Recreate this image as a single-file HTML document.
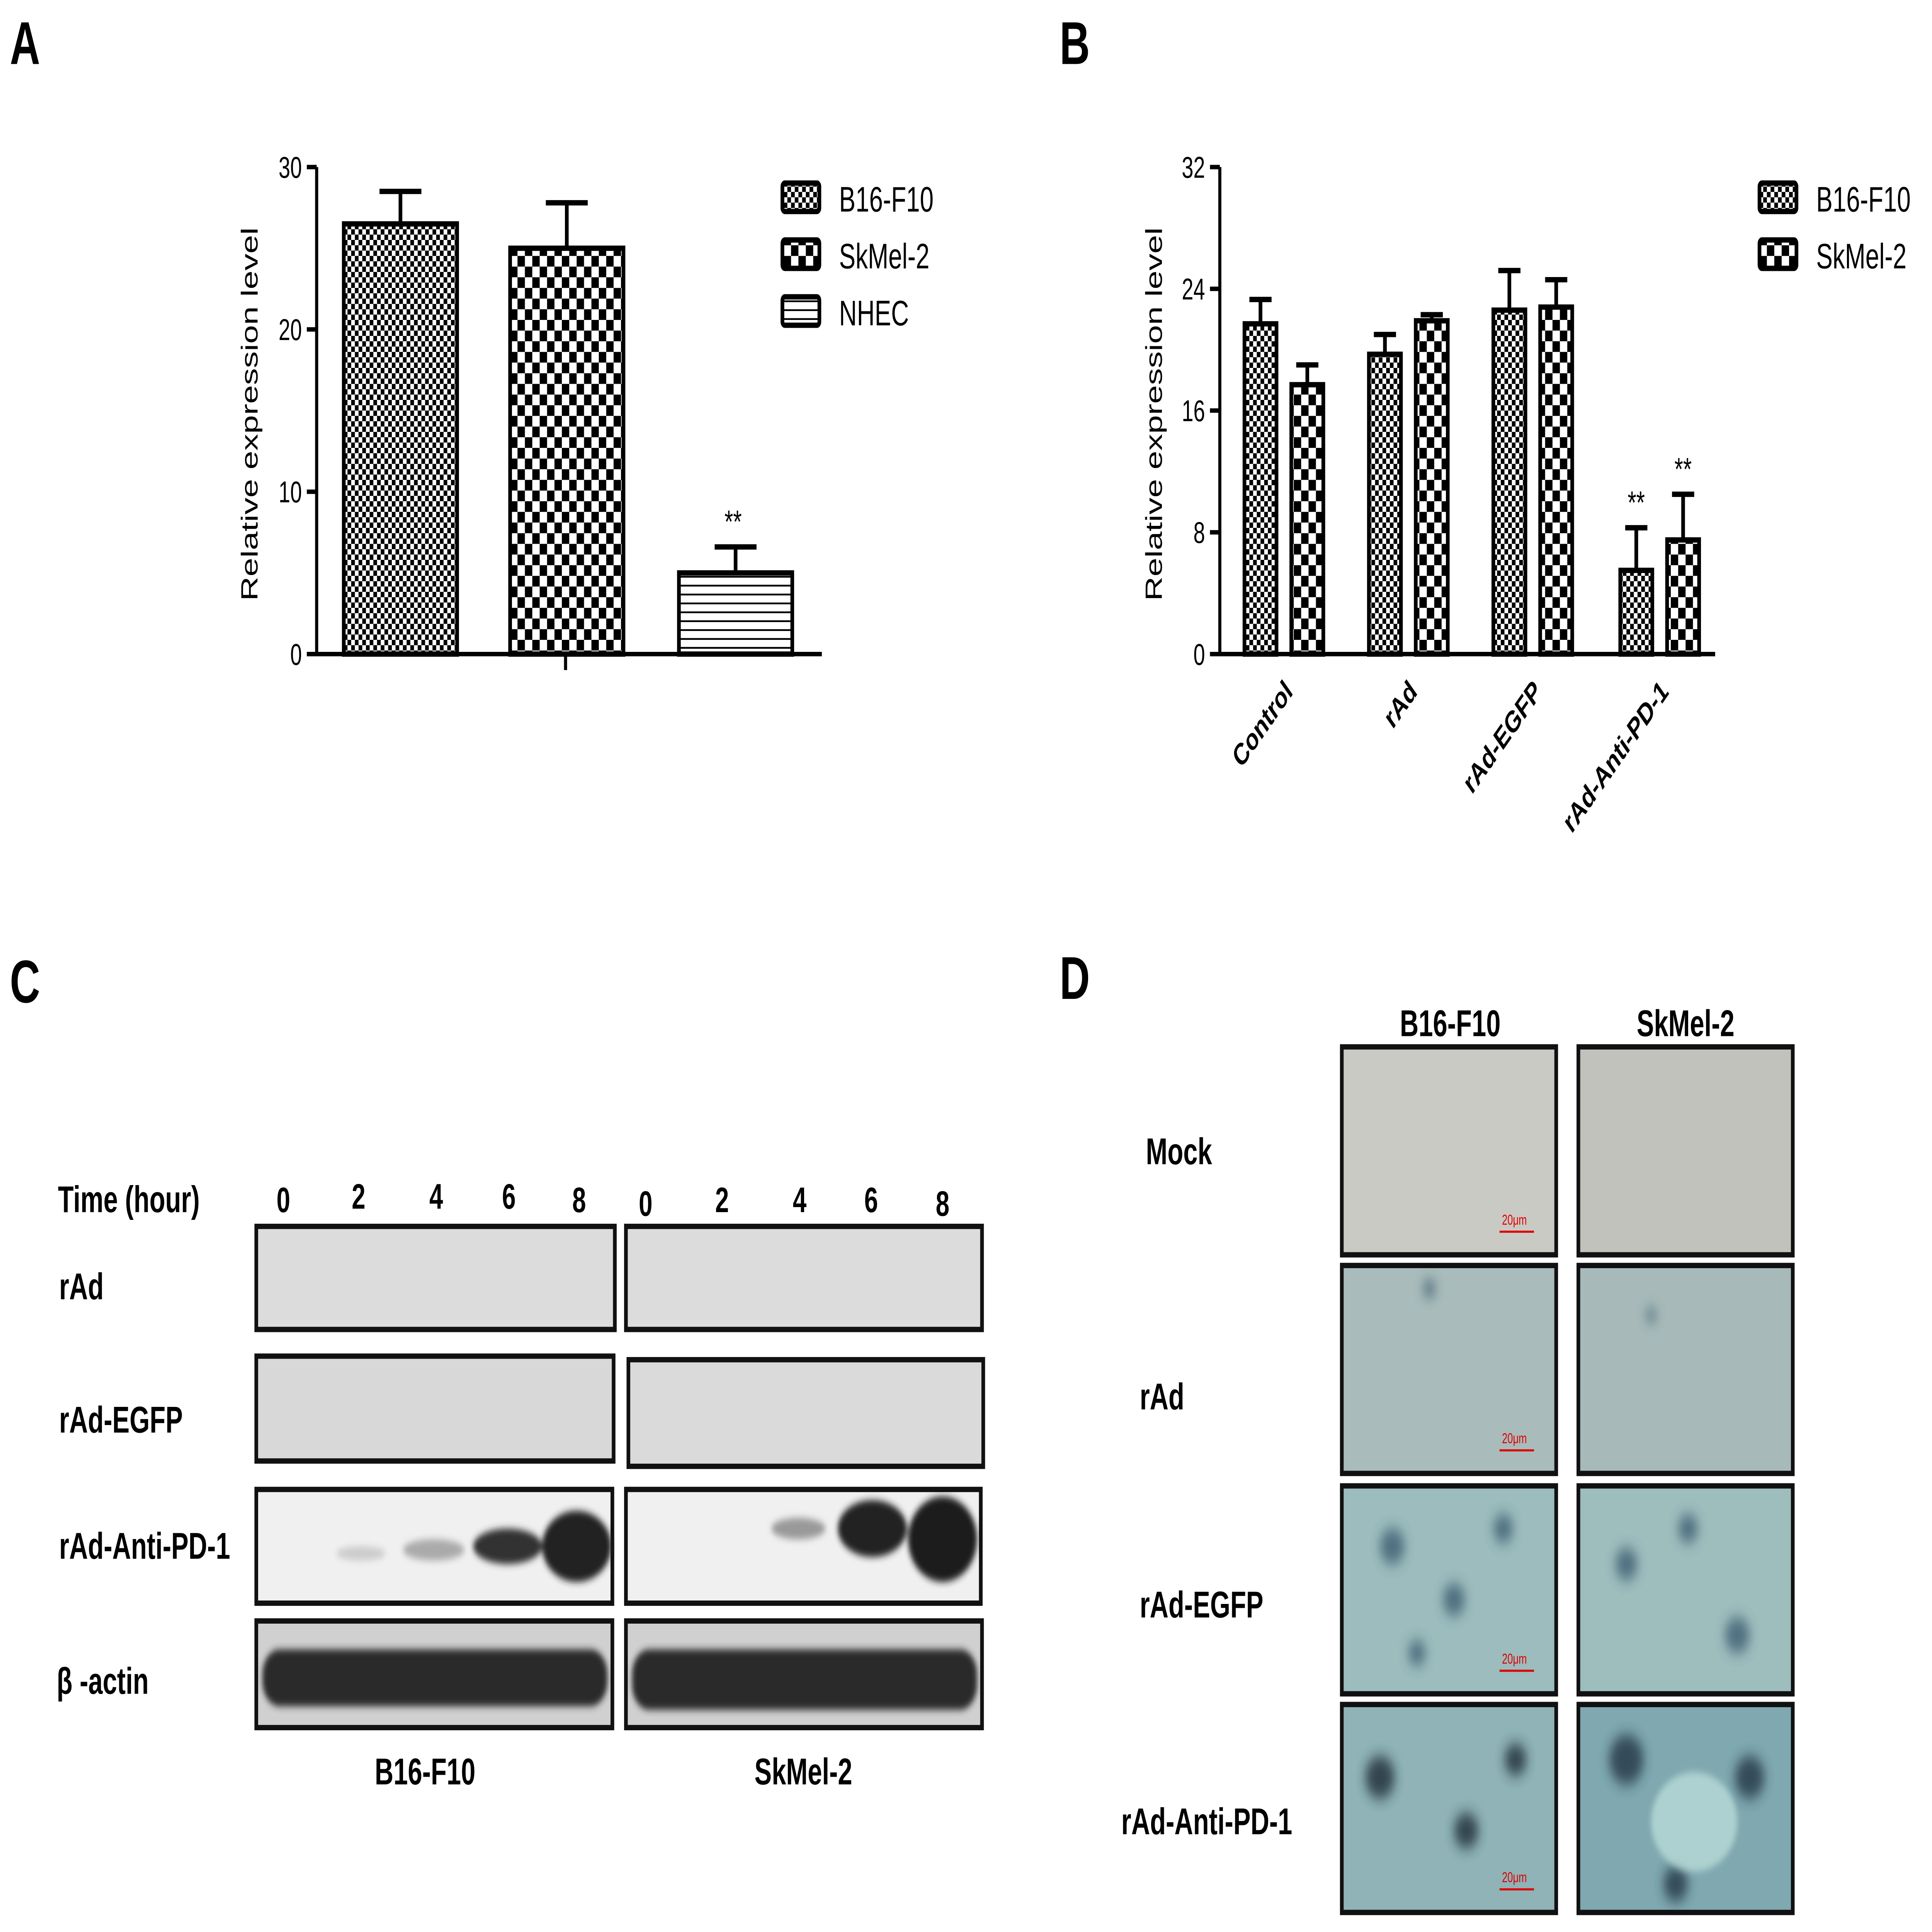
<!DOCTYPE html>
<html><head><meta charset="utf-8"><style>
html,body{margin:0;padding:0;background:#fff;width:100vw;height:100vh;overflow:hidden;}
#fig{display:block;width:100vw;height:100vh;}
text{font-family:"Liberation Sans",Arial,sans-serif;}
</style></head><body>
<svg id="fig" viewBox="0 0 1568 1087" preserveAspectRatio="none" xmlns="http://www.w3.org/2000/svg">
<defs>
<pattern id="pFine" width="6" height="6" patternUnits="userSpaceOnUse"><rect width="6" height="6" fill="#fff"/><rect width="3" height="3" fill="#000"/><rect x="3" y="3" width="3" height="3" fill="#000"/></pattern>
<pattern id="pCoarse" width="12" height="12" patternUnits="userSpaceOnUse"><rect width="12" height="12" fill="#fff"/><rect width="6" height="6" fill="#000"/><rect x="6" y="6" width="6" height="6" fill="#000"/></pattern>
<pattern id="pLines" width="8" height="5" patternUnits="userSpaceOnUse"><rect width="8" height="5" fill="#fff"/><rect y="4" width="8" height="1" fill="#000"/></pattern>
<filter id="blur2"><feGaussianBlur stdDeviation="2"/></filter>
<filter id="blur4"><feGaussianBlur stdDeviation="4"/></filter>
</defs>
<text x="8" y="36" font-size="34" font-weight="bold">A</text>
<text x="860" y="36" font-size="34" font-weight="bold">B</text>
<text x="8" y="564" font-size="34" font-weight="bold">C</text>
<text x="860" y="562" font-size="34" font-weight="bold">D</text>

<g id="chartA"></g>
<g id="chartB"></g>

<g font-weight="bold">
<text x="47" y="682" font-size="21">Time (hour)</text>
<g font-size="20" text-anchor="middle">
<text x="230" y="682">0</text><text x="291" y="680">2</text><text x="354" y="680">4</text><text x="413" y="680">6</text><text x="470" y="682">8</text>
<text x="524" y="684">0</text><text x="586" y="682">2</text><text x="649" y="682">4</text><text x="707" y="682">6</text><text x="765" y="684">8</text>
</g>
<g font-size="21">
<text x="48" y="731">rAd</text><text x="48" y="806">rAd-EGFP</text><text x="48" y="877">rAd-Anti-PD-1</text><text x="46" y="953">β -actin</text>
</g>
<g stroke="#111" stroke-width="3">
<rect x="208" y="690" width="291" height="58" fill="#dcdcdc"/>
<rect x="508" y="690" width="289" height="58" fill="#dcdcdc"/>
<rect x="208" y="763" width="290" height="59" fill="#d8d8d8"/>
<rect x="510" y="765" width="288" height="60" fill="#dadada"/>
<rect x="208" y="838" width="289" height="64" fill="#f0f0f0"/>
<rect x="508" y="838" width="288" height="64" fill="#f0f0f0"/>
<rect x="208" y="912" width="289" height="60" fill="#d0d0d0"/>
<rect x="508" y="912" width="289" height="60" fill="#d0d0d0"/>
</g>
<g filter="url(#blur2)">
<ellipse cx="293" cy="874" rx="20" ry="4" fill="#ccc"/>
<ellipse cx="352" cy="872" rx="25" ry="6" fill="#aaa"/>
<ellipse cx="412" cy="870" rx="28" ry="10" fill="#333"/>
<ellipse cx="468" cy="870" rx="28" ry="20" fill="#222"/>
<ellipse cx="648" cy="860" rx="22" ry="6" fill="#999"/>
<ellipse cx="708" cy="860" rx="28" ry="16" fill="#222"/>
<ellipse cx="765" cy="866" rx="28" ry="24" fill="#1a1a1a"/>
<rect x="213" y="928" width="280" height="32" rx="14" fill="#2a2a2a"/>
<rect x="513" y="928" width="280" height="34" rx="14" fill="#2a2a2a"/>
</g>
<text x="345" y="1004" font-size="21" text-anchor="middle">B16-F10</text>
<text x="652" y="1004" font-size="21" text-anchor="middle">SkMel-2</text>
</g>

<g font-weight="bold">
<text x="1177" y="583" font-size="21" text-anchor="middle">B16-F10</text>
<text x="1368" y="583" font-size="21" text-anchor="middle">SkMel-2</text>
<g font-size="21">
<text x="930" y="655">Mock</text><text x="925" y="793">rAd</text><text x="925" y="910">rAd-EGFP</text><text x="910" y="1032">rAd-Anti-PD-1</text>
</g>
<g stroke="#111" stroke-width="3">
<rect x="1089" y="589" width="174" height="117" fill="#cacac5"/>
<rect x="1281" y="589" width="174" height="117" fill="#c2c2bd"/>
<rect x="1089" y="712" width="174" height="117" fill="#a9bcbb"/>
<rect x="1281" y="712" width="174" height="117" fill="#a7bab9"/>
<rect x="1089" y="836" width="174" height="117" fill="#9cbcbd"/>
<rect x="1281" y="836" width="174" height="117" fill="#9ebdbd"/>
<rect x="1089" y="959" width="174" height="117" fill="#8fb3b7"/>
<rect x="1281" y="959" width="174" height="117" fill="#7fa8b0"/>
</g>
<g filter="url(#blur4)" fill="#3d5d72" opacity="0.8">
<circle cx="1130" cy="870" r="10"/><circle cx="1180" cy="900" r="9"/><circle cx="1220" cy="860" r="8"/><circle cx="1150" cy="930" r="7"/>
<circle cx="1320" cy="880" r="9"/><circle cx="1370" cy="860" r="8"/><circle cx="1410" cy="920" r="10"/>
<circle cx="1120" cy="1000" r="12" fill="#1a2a35"/><circle cx="1190" cy="1030" r="10" fill="#1a2a35"/><circle cx="1230" cy="990" r="9" fill="#1a2a35"/>
<circle cx="1320" cy="990" r="14" fill="#223644"/><circle cx="1420" cy="1000" r="12" fill="#223644"/><circle cx="1360" cy="1060" r="10" fill="#223644"/>
<circle cx="1160" cy="725" r="5"/><circle cx="1340" cy="740" r="4"/>
</g>
<ellipse cx="1375" cy="1025" rx="35" ry="28" fill="#b9dcd8" opacity="0.8" filter="url(#blur2)"/>
<g fill="none" stroke="#d00" stroke-width="1.2">
<line x1="1217" y1="693" x2="1245" y2="693"/><line x1="1217" y1="816" x2="1245" y2="816"/><line x1="1217" y1="940" x2="1245" y2="940"/><line x1="1217" y1="1063" x2="1245" y2="1063"/>
</g>
<g fill="#d00" font-size="8" font-weight="normal">
<text x="1219" y="689">20μm</text><text x="1219" y="812">20μm</text><text x="1219" y="936">20μm</text><text x="1219" y="1059">20μm</text>
</g>
</g>
</svg>
<script>
var NS="http://www.w3.org/2000/svg";
var aCategories=["B16-F10","SkMel-2","NHEC"];
var aValues=[26.5,25.0,5.0];
var aErrors=[2.0,2.8,1.6];
var aTicks=[0,10,20,30];
var bCategories=["Control","rAd","rAd-EGFP","rAd-Anti-PD-1"];
var bB16=[21.7,19.7,22.6,5.5];
var bB16Err=[1.6,1.3,2.6,2.8];
var bSk=[17.7,21.9,22.8,7.5];
var bSkErr=[1.3,0.4,1.8,3.0];
var bTicks=[0,8,16,24,32];

function mk(parent,tag,attrs,txt){var e=document.createElementNS(NS,tag);for(var k in attrs)e.setAttribute(k,attrs[k]);if(txt!==undefined)e.textContent=txt;parent.appendChild(e);return e;}

(function(){
var g=document.getElementById('chartA');
var y0=368,y1=94,ymax=30,xL=257,xR=667;
function ys(v){return y0-(y0-y1)*v/ymax;}
var fills=["url(#pFine)","url(#pCoarse)","url(#pLines)"];
var starts=[279,414,551],w=92;
aValues.forEach(function(v,i){
 var x=starts[i];
 var b=mk(g,'rect',{x:x,y:ys(v),width:w,height:y0-ys(v),fill:fills[i],stroke:'#000','stroke-width':3});
 
 
 var cx=x+w/2,t=ys(v+aErrors[i]);
 var e=mk(g,'path',{d:'M'+cx+' '+ys(v)+'V'+t+'M'+(cx-17)+' '+t+'H'+(cx+17),stroke:'#000','stroke-width':3,fill:'none'});
 
 
});
mk(g,'text',{x:595,y:ys(aValues[2]+aErrors[2])-8,'font-size':18,'text-anchor':'middle'},'**');
mk(g,'path',{d:'M'+xL+' '+y1+'V'+y0+'H'+xR+'M459 '+y0+'v9',stroke:'#000','stroke-width':2.5,fill:'none'});
aTicks.forEach(function(t){
 mk(g,'line',{x1:xL-8,x2:xL,y1:ys(t),y2:ys(t),stroke:'#000','stroke-width':2.5});
 var tl=mk(g,'text',{x:xL-12,y:ys(t)+6,'font-size':17,'text-anchor':'end'},String(t));
 
 
});
var yt=mk(g,'text',{x:0,y:0,'font-size':19,'text-anchor':'middle',transform:'translate(209,233) rotate(-90)'},'Relative expression level');


aCategories.forEach(function(c,i){
 var yy=103+i*32;
 mk(g,'rect',{x:635,y:yy,width:30,height:16,rx:2,fill:fills[i],stroke:'#000','stroke-width':3});
 var lt=mk(g,'text',{x:681,y:yy+16,'font-size':20},c);
 
 
});
})();

(function(){
var g=document.getElementById('chartB');
var y0=368,y1=94,ymax=32,xL=990,xR=1392;
function ys(v){return y0-(y0-y1)*v/ymax;}
var groupX=[1010,1111,1212,1315],w=26,gap=38;
function bar(x,v,err,fill,name){
 var b=mk(g,'rect',{x:x,y:ys(v),width:w,height:y0-ys(v),fill:fill,stroke:'#000','stroke-width':3});
 
 
 var cx=x+w/2,t=ys(v+err);
 var e=mk(g,'path',{d:'M'+cx+' '+ys(v)+'V'+t+'M'+(cx-9)+' '+t+'H'+(cx+9),stroke:'#000','stroke-width':3,fill:'none'});
 
 
}
bCategories.forEach(function(c,i){
 bar(groupX[i],bB16[i],bB16Err[i],'url(#pFine)','bar-b16-'+i);
 bar(groupX[i]+gap,bSk[i],bSkErr[i],'url(#pCoarse)','bar-skmel-'+i);
 var lx=groupX[i]+w+6;
 var tl=mk(g,'text',{x:0,y:0,'font-size':17,'font-weight':'bold','text-anchor':'end',transform:'translate('+(lx+8)+',390) rotate(-45)'},c);
 
 
});
mk(g,'text',{x:groupX[3]+w/2,y:ys(bB16[3]+bB16Err[3])-8,'font-size':18,'text-anchor':'middle'},'**');
mk(g,'text',{x:groupX[3]+gap+w/2,y:ys(bSk[3]+bSkErr[3])-8,'font-size':18,'text-anchor':'middle'},'**');
mk(g,'path',{d:'M'+xL+' '+y1+'V'+y0+'H'+xR,stroke:'#000','stroke-width':2.5,fill:'none'});
bTicks.forEach(function(t){
 mk(g,'line',{x1:xL-8,x2:xL,y1:ys(t),y2:ys(t),stroke:'#000','stroke-width':2.5});
 var tl=mk(g,'text',{x:xL-12,y:ys(t)+6,'font-size':17,'text-anchor':'end'},String(t));
 
 
});
var yt=mk(g,'text',{x:0,y:0,'font-size':19,'text-anchor':'middle',transform:'translate(943,233) rotate(-90)'},'Relative expression level');


['B16-F10','SkMel-2'].forEach(function(c,i){
 var yy=103+i*32;
 mk(g,'rect',{x:1428,y:yy,width:30,height:16,rx:2,fill:i?'url(#pCoarse)':'url(#pFine)',stroke:'#000','stroke-width':3});
 var lt=mk(g,'text',{x:1474,y:yy+16,'font-size':20},c);
 
 
});
})();
</script>
</body></html>
